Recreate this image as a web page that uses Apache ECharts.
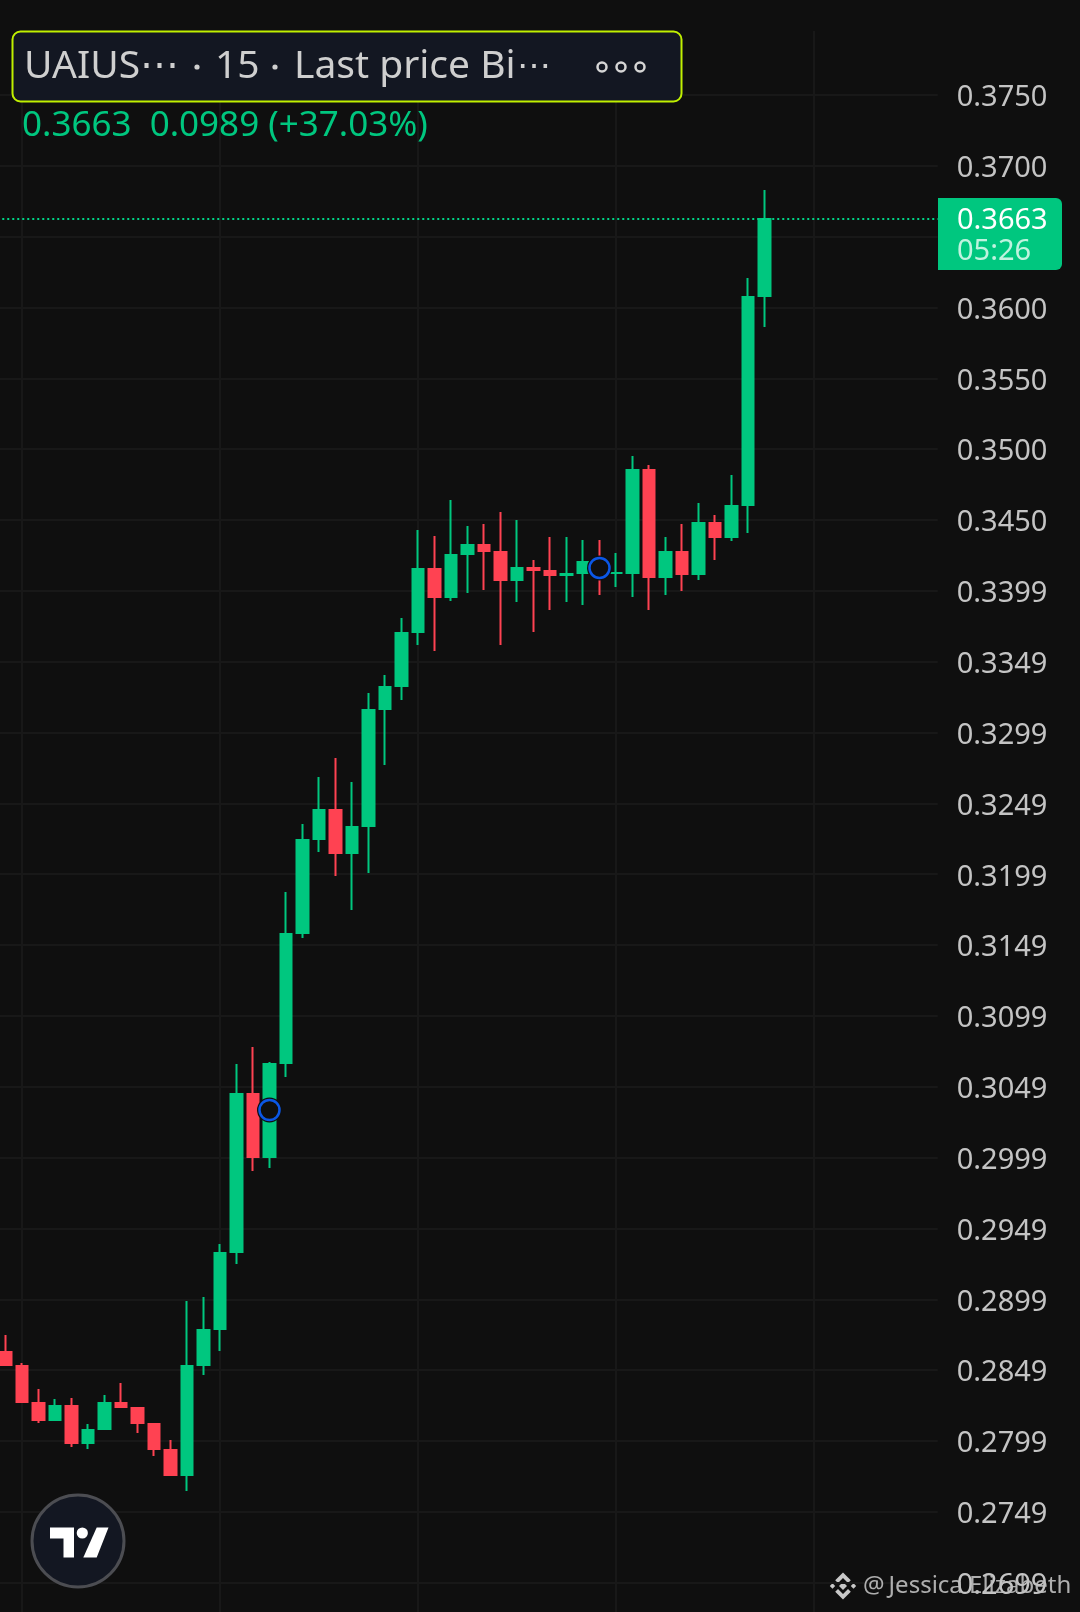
<!DOCTYPE html>
<html>
<head>
<meta charset="utf-8">
<title>UAIUS 15</title>
<script src="https://cdn.jsdelivr.net/npm/echarts@6/dist/echarts.min.js"></script>
<style>
html,body{margin:0;padding:0;background:#0f0f0f;}
#chart{width:1080px;height:1612px;}
</style>
</head>
<body>
<div id="chart"></div>
<script>
// open, close, low, high
const candles = [
 [.28628,.28536,.28529,.28748],[.28529,.28275,.28268,.28551],[.28268,.28148,.28127,.28367],[.28148,.28247,.28141,.28296],
 [.28247,.27986,.27958,.28303],[.27986,.28078,.27943,.28120],[.28085,.28268,.28078,.28325],[.28268,.28240,.28233,.28409],
 [.28233,.28127,.28056,.28240],[.28120,.27943,.27894,.28127],[.27936,.27760,.27753,.28007],[.27760,.28529,.27647,.28988],
 [.28536,.28783,.28466,.29016],[.28790,.29327,.28635,.29390],[.29334,.30449,.29249,.30661],[.30449,.30004,.29906,.30781],
 [.30004,.30661,.29927,.30675],[.30668,.31578,.30569,.31875],[.31585,.32242,.31550,.32355],[.32249,.32454,.32157,.32686],
 [.32454,.32150,.31988,.32821],[.32150,.32334,.31748,.32651],[.32341,.33159,.32009,.33279],[.33166,.33322,.32771,.33406],
 [.33329,.33703,.33230,.33809],[.33710,.34155,.33618,.34430],[.34155,.33957,.33576,.34387],[.33957,.34253,.33929,.34642],
 [.34260,.34324,.33985,.34458],[.34324,.34282,.34006,.34472],[.34274,.34077,.33618,.34557],[.34077,.34162,.33922,.34500],
 [.34162,.34147,.33710,.34218],[.34140,.34112,.33865,.34380],[.34112,.34119,.33922,.34380],[.34126,.34204,.33900,.34359],
 [.34197,.34133,.33971,.34359],[.34126,.34127,.34028,.34267],[.34126,.34853,.33957,.34952],[.34853,.34098,.33865,.34889],
 [.34098,.34274,.33971,.34380],[.34274,.34119,.33999,.34472],[.34119,.34479,.34077,.34620],[.34479,.34380,.34218,.34536],
 [.34380,.34599,.34352,.34818],[.34606,.36074,.34409,.36208],[.36081,.36625,.35863,.36830]
];
const emptySlots = 10;
const categories = Array.from({length: candles.length + emptySlots}, (_, i) => 'bar' + i);
const candleSeries = candles.concat(Array.from({length: emptySlots}, () => '-'));
const signalMarkers = [[16, .30336], [36, .34162]];
const lastPrice = 0.3663;
const tickValues = [.375,.37,.365,.36,.355,.35,.345,.34,.335,.33,.325,.32,.315,.31,.305,.3,.295,.29,.285,.28,.275,.27];
const tickLabels = ['0.3750','0.3700','0.3650','0.3600','0.3550','0.3500','0.3450','0.3399','0.3349','0.3299','0.3249','0.3199','0.3149','0.3099','0.3049','0.2999','0.2949','0.2899','0.2849','0.2799','0.2749','0.2699'];
const timeSections = ['a','b','c','d','e','f'];
const symbolText = 'UAIUS\u22EF';
const intervalText = '15';
const sourceText = 'Last price Bi';
const moreText = '\u22EF';
const quoteText = '0.3663  0.0989 (+37.03%)';
const badgePrice = '0.3663';
const badgeTimer = '05:26';
const watermark = '@\u2009Jessica Elizabeth';

const UP = '#00c77f', DOWN = '#ff4252', BG = '#0f0f0f', GRID = '#181818', FONT = '"Noto Sans"';

const chart = echarts.init(document.getElementById('chart'), null, {renderer: 'canvas'});
const diamond = (cx, cy, r) => ({type:'polygon', shape:{points:[[cx,cy-r],[cx+r,cy],[cx,cy+r],[cx-r,cy]]}, style:{fill:'#c8c8c8'}});
const titleStyle = (t, size) => ({text:t, font:(size||39)+'px '+FONT, fill:'#cfcfcf', textVerticalAlign:'middle'});
const bullet = cx => ({type:'circle', z:51, shape:{cx:cx, cy:67, r:2.6}, style:{fill:'#cfcfcf'}});
chart.setOption({
  animation: false,
  backgroundColor: BG,
  grid: [
    {left: -2.75, width: 940.5, top: 24.16, height: 1629.32, outerBoundsMode:'none', containLabel:false},
    {left: -176, width: 1188, top: 31, height: 1581, outerBoundsMode:'none', containLabel:false}
  ],
  xAxis: [
    {type:'category', gridIndex:0, data:categories, boundaryGap:true, axisLine:{show:false}, axisTick:{show:false}, axisLabel:{show:false}, splitLine:{show:false}},
    {type:'category', gridIndex:1, data:timeSections, boundaryGap:true, axisLine:{show:false}, axisTick:{show:false}, axisLabel:{show:false},
      splitLine:{show:true, interval:0, showMinLine:false, showMaxLine:false, lineStyle:{color:GRID, width:2}}}
  ],
  yAxis: [
    {type:'value', gridIndex:0, position:'right', min:.265, max:.38, interval:.005, scale:true,
      axisLine:{show:false}, axisTick:{show:false},
      splitLine:{show:true, showMinLine:false, showMaxLine:false, lineStyle:{color:GRID, width:2}},
      axisLabel:{show:true, margin:19, showMinLabel:false, showMaxLabel:false, color:'#c4c4c4', fontFamily:FONT, fontSize:29,
        rich:{t:{color:'#c4c4c4', fontFamily:FONT, fontSize:29, padding:[6,0,0,0]}},
        formatter:v => { const i = tickValues.findIndex(t => Math.abs(t - v) < 1e-6); return i < 0 ? '' : '{t|' + tickLabels[i] + '}'; }}},
    {type:'value', gridIndex:1, show:false, min:0, max:1, splitLine:{show:false}}
  ],
  series: [
    {type:'line', xAxisIndex:0, yAxisIndex:0, data:[], z:1, silent:true,
      markLine:{silent:true, symbol:'none', animation:false, precision:4, label:{show:false},
        lineStyle:{color:'#00d486', width:2, type:[2,3]}, data:[{yAxis:lastPrice}]}},
    {type:'candlestick', xAxisIndex:0, yAxisIndex:0, data:candleSeries, barWidth:12, clip:false, z:2,
      itemStyle:{color:UP, color0:DOWN, borderColor:UP, borderColor0:DOWN, borderWidth:2}},
    {type:'scatter', xAxisIndex:0, yAxisIndex:0, data:signalMarkers, symbol:'circle', symbolSize:25, z:3, silent:true,
      itemStyle:{color:BG, opacity:1}},
    {type:'scatter', xAxisIndex:0, yAxisIndex:0, data:signalMarkers, symbol:'circle', symbolSize:20, z:4, silent:true,
      itemStyle:{color:BG, borderColor:'#0b57e6', borderWidth:2.5, opacity:1}}
  ],
  graphic: [
    {type:'rect', z:50, shape:{x:12.5,y:31.5,width:669,height:70,r:8}, style:{fill:'#131722', stroke:'#c0f000', lineWidth:2}},
    {type:'text', z:51, x:24, y:67, style:titleStyle(symbolText)},
    bullet(197),
    {type:'text', z:51, x:215, y:67, style:titleStyle(intervalText)},
    bullet(275),
    {type:'text', z:51, x:294, y:67, style:titleStyle(sourceText)},
    {type:'text', z:51, x:517, y:67, style:titleStyle(moreText, 34)},
    {type:'circle', z:51, shape:{cx:602,cy:67,r:4.5}, style:{fill:'none', stroke:'#d6d6d6', lineWidth:2.5}},
    {type:'circle', z:51, shape:{cx:621,cy:67,r:4.5}, style:{fill:'none', stroke:'#d6d6d6', lineWidth:2.5}},
    {type:'circle', z:51, shape:{cx:640,cy:67,r:4.5}, style:{fill:'none', stroke:'#d6d6d6', lineWidth:2.5}},
    {type:'text', z:51, x:22, y:126, style:{text:quoteText, font:'35px '+FONT, fill:UP, textVerticalAlign:'middle'}},
    {type:'rect', z:50, shape:{x:938,y:198,width:124,height:72,r:[0,6,6,0]}, style:{fill:UP}},
    {type:'text', z:51, x:957, y:221, style:{text:badgePrice, font:'29px '+FONT, fill:'#ffffff', textVerticalAlign:'middle'}},
    {type:'text', z:51, x:957, y:252, style:{text:badgeTimer, font:'29px '+FONT, fill:'#bff3df', textVerticalAlign:'middle'}},
    {type:'circle', z:50, shape:{cx:78,cy:1541,r:46}, style:{fill:'#131722', stroke:'#4c4d52', lineWidth:3}},
    {type:'polygon', z:51, shape:{points:[[50,1527.5],[74,1527.5],[74,1557.5],[63.5,1557.5],[63.5,1538.5],[50,1538.5]]}, style:{fill:'#ffffff'}},
    {type:'circle', z:51, shape:{cx:82.3,cy:1533,r:5.6}, style:{fill:'#ffffff'}},
    {type:'polygon', z:51, shape:{points:[[96.7,1527.5],[108.5,1527.5],[96.7,1557.5],[83.3,1557.5]]}, style:{fill:'#ffffff'}},
    {type:'group', z:52, x:843, y:1586, children:[
      diamond(0,0,4), diamond(-10.5,0,2.7), diamond(10.5,0,2.7),
      {type:'polygon', shape:{points:[[0,-13.5],[7.8,-5.7],[5,-3],[0,-8],[-5,-3],[-7.8,-5.7]]}, style:{fill:'#c8c8c8'}},
      {type:'polygon', shape:{points:[[0,13.5],[7.8,5.7],[5,3],[0,8],[-5,3],[-7.8,5.7]]}, style:{fill:'#c8c8c8'}}
    ]},
    {type:'text', z:52, x:863, y:1586, style:{text:watermark, font:'24px '+FONT, fill:'#c0c0c0', opacity:.9, textVerticalAlign:'middle'}}
  ]
});
</script>
</body>
</html>
